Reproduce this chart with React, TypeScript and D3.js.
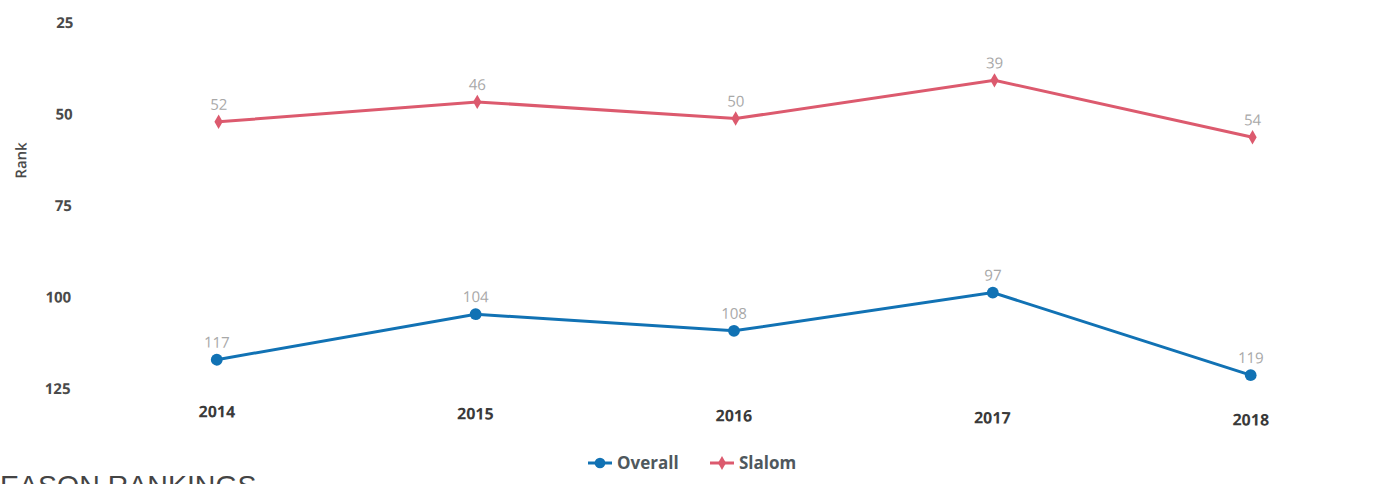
import React, { useRef, useEffect } from 'react';
import * as d3 from 'd3';

const years = ['2014', '2015', '2016', '2017', '2018'];
const overall = [117, 104, 108, 97, 119];
const slalom = [52, 46, 50, 39, 54];
const yTicks = [25, 50, 75, 100, 125];

const seriesList = [
  { name: 'Overall', values: overall, color: '#1172b4', marker: 'circle' },
  { name: 'Slalom', values: slalom, color: '#dc5a6e', marker: 'diamond' },
];

const App = () => {
  const svgRef = useRef<SVGSVGElement>(null);

  useEffect(() => {
    const svg = d3.select(svgRef.current);
    svg.selectAll('*').remove();

    const font = '"Open Sans", "DejaVu Sans", sans-serif';

    // the scanned chart sits slightly tilted
    const chart = svg.append('g').attr('transform', 'rotate(0.45,218,200)');

    // x positions of the seasons
    const x = d3.scalePoint<string>().domain(years).range([218, 1252]);
    // ranks are reversed: best at top
    const y = d3.scaleLinear().domain([25, 125]).range([23, 389]);

    // y axis labels
    const yAxis = d3.axisLeft(y).tickValues(yTicks).tickSize(0).tickPadding(0);
    const gy = chart.append('g').attr('transform', 'translate(72,1)').call(yAxis);
    gy.select('.domain').remove();
    gy.selectAll('text')
      .attr('font-family', font)
      .attr('font-size', 15)
      .attr('font-weight', 700)
      .attr('fill', '#4a4a4a');

    chart.append('text')
      .attr('transform', 'translate(26,162) rotate(-90)')
      .attr('text-anchor', 'middle')
      .attr('font-family', font)
      .attr('font-size', 15)
      .attr('font-weight', 600)
      .attr('fill', '#4a4a4a')
      .text('Rank');

    // x axis labels
    const xAxis = d3.axisBottom(x).tickSize(0).tickPadding(0);
    const gx = chart.append('g').attr('transform', 'translate(0,406)').call(xAxis);
    gx.select('.domain').remove();
    gx.selectAll('text')
      .attr('font-family', font)
      .attr('font-size', 16)
      .attr('font-weight', 700)
      .attr('fill', '#3a3a3a');

    const line = d3.line<number>()
      .x((d, i) => x(years[i]) as number)
      .y(d => y(d));

    seriesList.forEach(s => {
      chart.append('path')
        .datum(s.values)
        .attr('d', line)
        .attr('fill', 'none')
        .attr('stroke', s.color)
        .attr('stroke-width', 3);

      const sym = d3.symbol()
        .type(s.marker === 'circle' ? d3.symbolCircle : d3.symbolDiamond)
        .size(s.marker === 'circle' ? 110 : 60);

      chart.selectAll(null)
        .data(s.values)
        .enter()
        .append('path')
        .attr('d', sym)
        .attr('transform', (d, i) => `translate(${x(years[i])},${y(d)})`)
        .attr('fill', s.color);

      chart.selectAll(null)
        .data(s.values)
        .enter()
        .append('text')
        .attr('x', (d, i) => x(years[i]) as number)
        .attr('y', d => y(d) - 12)
        .attr('text-anchor', 'middle')
        .attr('font-family', font)
        .attr('font-size', 15)
        .attr('fill', '#a8a8a8')
        .text(d => d);
    });

    // legend
    const legend = svg.append('g').attr('transform', 'translate(588,463)');
    seriesList.forEach((s, i) => {
      const g = legend.append('g').attr('transform', `translate(${i * 122},0)`);
      g.append('line')
        .attr('x1', 0).attr('x2', 24)
        .attr('stroke', s.color)
        .attr('stroke-width', 3);
      g.append('path')
        .attr('d', d3.symbol()
          .type(s.marker === 'circle' ? d3.symbolCircle : d3.symbolDiamond)
          .size(s.marker === 'circle' ? 90 : 55)())
        .attr('transform', 'translate(12,0)')
        .attr('fill', s.color);
      g.append('text')
        .attr('x', 29)
        .attr('dy', '0.35em')
        .attr('font-family', font)
        .attr('font-size', 17)
        .attr('font-weight', 700)
        .attr('fill', '#4f585d')
        .text(s.name);
    });

    // page heading cut off at the bottom
    svg.append('text')
      .attr('x', -19)
      .attr('y', 495)
      .attr('font-family', '"Liberation Sans", Arial, sans-serif')
      .attr('font-size', 28.5)
      .attr('fill', '#444')
      .text('SEASON RANKINGS');
  }, []);

  return (
    <svg
      ref={svgRef}
      width={1385}
      height={484}
      style={{ position: 'absolute', left: 0, top: 0, background: '#fff' }}
    />
  );
};

export default App;
